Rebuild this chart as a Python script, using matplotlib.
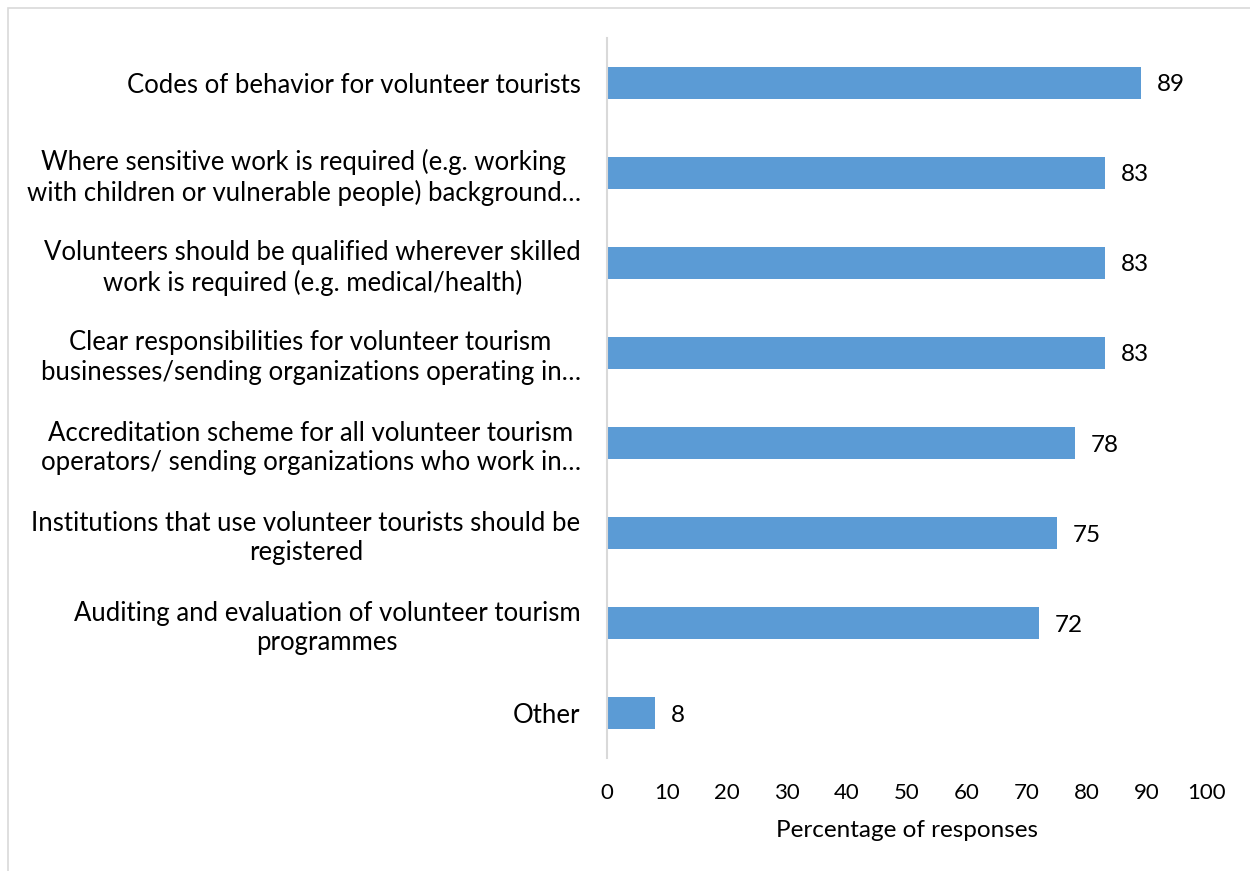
import matplotlib.pyplot as plt
from matplotlib.patches import Rectangle

labels = [
    'Codes of behavior for volunteer tourists',
    'Where sensitive work is required (e.g. working\nwith children or vulnerable people) background…',
    'Volunteers should be qualified wherever skilled\nwork is required (e.g. medical/health)',
    'Clear responsibilities for volunteer tourism\nbusinesses/sending organizations operating in…',
    'Accreditation scheme for all volunteer tourism\noperators/ sending organizations who work in…',
    'Institutions that use volunteer tourists should be\nregistered',
    'Auditing and evaluation of volunteer tourism\nprogrammes',
    'Other',
]
values = [89, 83, 83, 83, 78, 75, 72, 8]
xticks = list(range(0, 101, 10))

plt.rcParams['font.family'] = ['Lato', 'DejaVu Sans']

fig = plt.figure(figsize=(12.5, 8.71), dpi=100)
ax = fig.add_axes([0.4856, 0.1297, 0.9656 - 0.4856, 0.9564 - 0.1297])

pos = list(range(len(labels)))
ax.barh(pos, values, height=0.355, color='#5B9BD5')
for p, v in zip(pos, values):
    ax.text(v + 2.6, p, str(v), va='center_baseline', ha='left', fontsize=17.5, color='black')

ax.set_ylim(len(labels) - 0.5, -0.5)
ax.set_xlim(0, 100)
ax.set_yticks(pos)
ax.set_yticklabels(labels, fontsize=18.5, linespacing=1.22)
for lbl in ax.get_yticklabels():
    lbl.set_multialignment('center')
ax.set_xticks(xticks)
ax.set_xticklabels([str(t) for t in xticks], fontsize=16)
ax.tick_params(axis='y', length=0, pad=19)
ax.tick_params(axis='x', length=0, pad=18)
ax.set_xlabel('Percentage of responses', fontsize=17.5, labelpad=12)

for s in ['top', 'right', 'bottom']:
    ax.spines[s].set_visible(False)
ax.spines['left'].set_color('#D9D9D9')
ax.spines['left'].set_linewidth(1.5)

fig.patches.append(Rectangle((8 / 1250, -0.05), 1.1, 1 - 8 / 871 + 0.05,
                             transform=fig.transFigure, fill=False,
                             edgecolor='#D9D9D9', linewidth=1.2))

fig.savefig('out.png', dpi=100)
